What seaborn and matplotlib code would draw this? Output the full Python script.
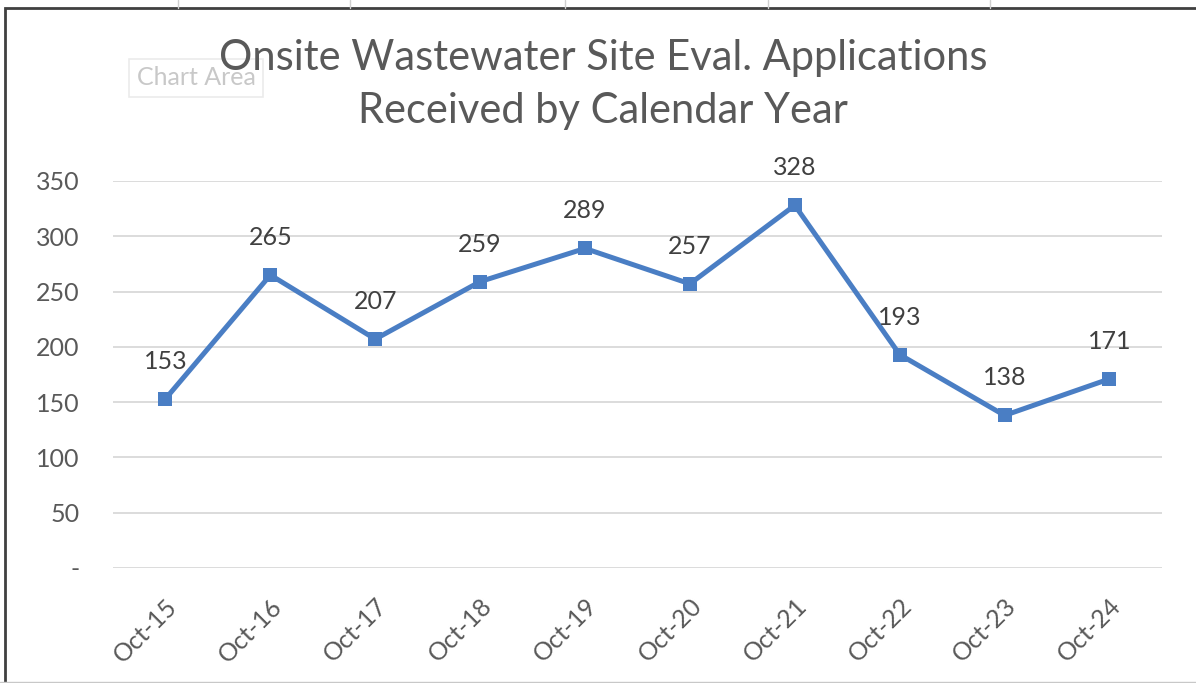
import matplotlib
matplotlib.use('Agg')
import matplotlib.pyplot as plt
import seaborn as sns
import pandas as pd
from matplotlib.patches import Rectangle
from matplotlib.lines import Line2D

months = ['Oct-15', 'Oct-16', 'Oct-17', 'Oct-18', 'Oct-19',
          'Oct-20', 'Oct-21', 'Oct-22', 'Oct-23', 'Oct-24']
applications = [153, 265, 207, 259, 289, 257, 328, 193, 138, 171]
y_ticks = [0, 50, 100, 150, 200, 250, 300, 350]
y_tick_labels = ['-', '50', '100', '150', '200', '250', '300', '350']

df = pd.DataFrame({'Month': months, 'Applications': applications})
df['pos'] = range(len(df))

sns.set_style('white')
plt.rcParams['font.family'] = ['Lato', 'DejaVu Sans']

fig = plt.figure(figsize=(11.96, 6.83), dpi=100)
ax = fig.add_axes([0.0945, 0.1684, 0.877, 0.5666])

sns.lineplot(data=df, x='pos', y='Applications', ax=ax, color='#4A7EC4',
             linewidth=3.6, marker='s', markersize=10.5, markeredgewidth=0)

for x, y in zip(df['pos'], df['Applications']):
    ax.annotate(str(y), (x, y), xytext=(0, 27), textcoords='offset points',
                ha='center', va='center', fontsize=18, color='#404040')

ax.set_xlim(-0.5, len(months) - 0.5)
ax.set_ylim(0, 350)
ax.set_yticks(y_ticks)
ax.set_yticklabels(y_tick_labels)
ax.set_xticks(df['pos'])
ax.set_xticklabels(months, rotation=45, ha='right', rotation_mode='anchor')
ax.tick_params(axis='both', length=0, labelsize=18, labelcolor='#595959')
ax.tick_params(axis='y', pad=24)
ax.tick_params(axis='x', pad=19)
ax.grid(axis='y', color='#D9D9D9', linewidth=1.3)
ax.set_axisbelow(True)
for s in ax.spines.values():
    s.set_visible(False)
ax.set_xlabel('')
ax.set_ylabel('')

# faint "Chart Area" tooltip, drawn behind the title as in the screenshot
fig.text(0.164, 0.886, 'Chart Area', ha='center', va='center', fontsize=18,
         color='#C8C8C8', zorder=0,
         bbox=dict(boxstyle='square,pad=0.3', fc='white', ec='#EBEBEB', lw=1.2))

fig.text(0.504, 0.876, 'Onsite Wastewater Site Eval. Applications\nReceived by Calendar Year',
         ha='center', va='center', fontsize=30, color='#595959', linespacing=1.5,
         zorder=2)

# outer border of the chart object
fig.add_artist(Rectangle((0.004, -0.01), 1.1, 0.998, transform=fig.transFigure,
                         fill=False, ec='#404040', lw=2))
for cx in [178, 350, 565, 768, 990]:
    fig.add_artist(Line2D([cx / 1196, cx / 1196], [0.989, 1.0], transform=fig.transFigure,
                          color='#D0D0D0', lw=1))
fig.add_artist(Line2D([0, 1], [0.002, 0.002], transform=fig.transFigure,
                      color='#C8C8C8', lw=1))

fig.savefig('out.png', dpi=100)
